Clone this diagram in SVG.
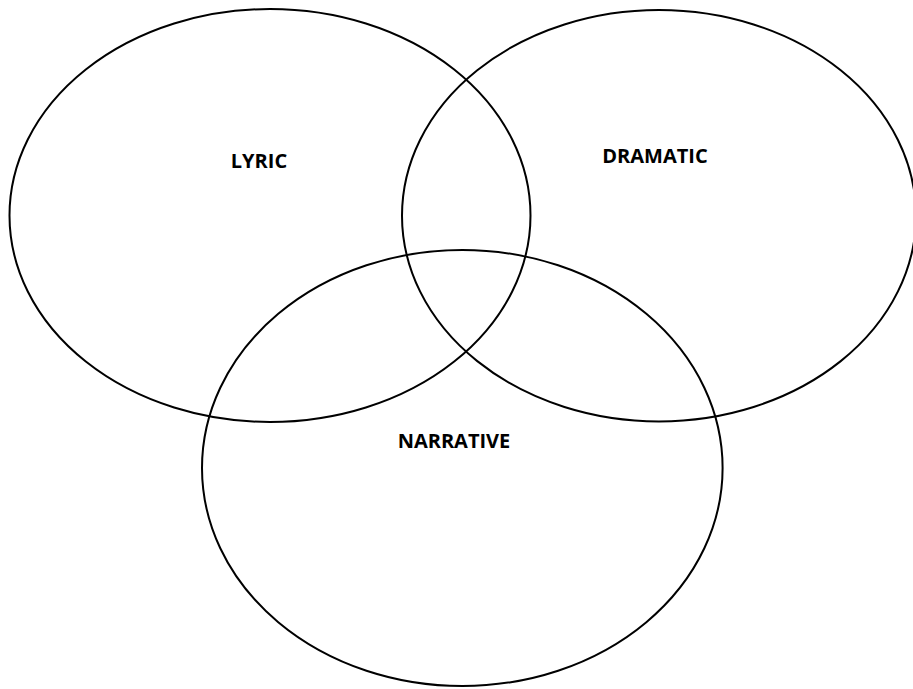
<svg xmlns="http://www.w3.org/2000/svg" width="913" height="689" viewBox="0 0 913 689">
<style>
.c{fill:none;stroke:#000;stroke-width:2}
.t{font-family:"Open Sans","Liberation Sans",sans-serif;font-weight:bold;font-size:20px;fill:#000;text-anchor:middle}
</style>
<rect width="913" height="689" fill="#fff"/>
<g id="lyric"><ellipse class="c" cx="270" cy="215.5" rx="260.5" ry="206.5"/><text class="t" x="259" y="168">LYRIC</text></g>
<g id="dramatic"><ellipse class="c" cx="659" cy="215.7" rx="257" ry="205.7"/><text class="t" x="655" y="163">DRAMATIC</text></g>
<g id="narrative"><ellipse class="c" cx="462.3" cy="468" rx="260.3" ry="218"/><text class="t" x="454" y="448">NARRATIVE</text></g>
<g id="connectors"/>
</svg>
